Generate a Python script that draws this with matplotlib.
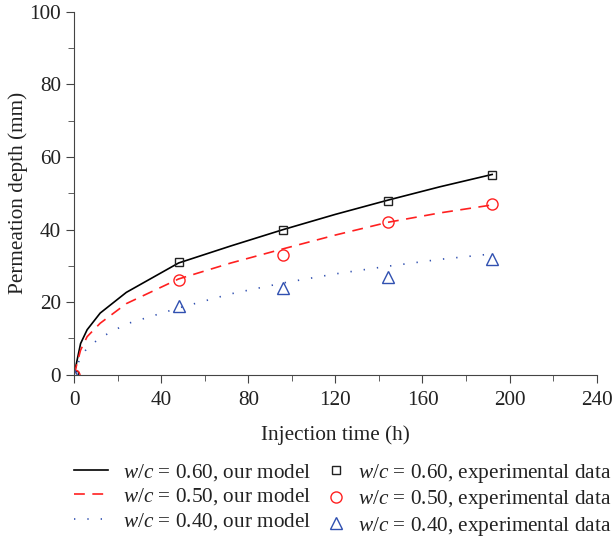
import matplotlib
matplotlib.use("Agg")
import matplotlib.pyplot as plt
from matplotlib.ticker import MultipleLocator

plt.rcParams['font.family'] = ['Liberation Serif', 'DejaVu Serif']
plt.rcParams['mathtext.fontset'] = 'custom'
plt.rcParams['mathtext.rm'] = 'Liberation Serif'
plt.rcParams['mathtext.it'] = 'Liberation Serif:italic'

# model curves
t_model = [0, 3, 6, 12, 24, 48, 72, 96, 120, 144, 168, 192]
model_060 = [0, 8.6, 12.4, 17.0, 22.7, 30.8, 35.5, 40.0, 44.2, 48.1, 51.8, 55.2]
model_050 = [0, 6.8, 10.5, 14.2, 19.6, 26.4, 30.8, 34.7, 38.5, 42.0, 44.6, 46.8]
model_040 = [0, 5.0, 7.3, 10.2, 14.0, 18.4, 22.3, 25.3, 27.8, 29.9, 31.8, 33.3]

# experimental data
t_exp = [0, 48, 96, 144, 192]
exp_060 = [0, 31, 40, 48, 55]
exp_050 = [0, 26, 33, 42, 47]
exp_040 = [0, 19, 24, 27, 32]

FS = 15.3
fig = plt.figure(figsize=(6.12, 5.4), dpi=100)
ax = fig.add_axes([0.121, 0.306, 0.854, 0.672])

l1, = ax.plot(t_model, model_060, '-', color='black', lw=1.2)
l2, = ax.plot(t_model, model_050, '--', color='#ff2020', lw=1.2, dashes=(6.5, 4.5))
l3, = ax.plot(t_model, model_040, ':', color='#3050b0', lw=1.2, dashes=(0.8, 7.2))
m1, = ax.plot(t_exp, exp_060, 's', mfc='none', mec='#222222', ms=6, mew=1.0, ls='none')
m2, = ax.plot(t_exp, exp_050, 'o', mfc='none', mec='#ff2020', ms=8, mew=1.0, ls='none')
m3, = ax.plot(t_exp, exp_040, '^', mfc='none', mec='#3050b0', ms=8, mew=1.0, ls='none')

ax.set_xlim(0, 240)
ax.set_ylim(0, 100)
ax.xaxis.set_major_locator(MultipleLocator(40))
ax.xaxis.set_minor_locator(MultipleLocator(20))
ax.yaxis.set_major_locator(MultipleLocator(20))
ax.yaxis.set_minor_locator(MultipleLocator(10))
ax.spines['top'].set_visible(False)
ax.spines['right'].set_visible(False)
for s in ['left', 'bottom']:
    ax.spines[s].set_color('#444444')
ax.tick_params(which='both', direction='out', colors='#444444', labelcolor='#222222', labelsize=FS)
ax.tick_params(which='major', length=6)
ax.tick_params(which='minor', length=4)
ax.tick_params(axis='x', pad=5.5)
ax.set_xlabel('Injection time (h)', fontsize=FS, color='#222222', labelpad=11)
ax.set_ylabel('Permeation depth (mm)', fontsize=FS, color='#222222', labelpad=1)

line_labels = [r'$w/c$ = 0.60, our model', r'$w/c$ = 0.50, our model', r'$w/c$ = 0.40, our model']
exp_labels = [r'$w/c$ = 0.60, experimental data', r'$w/c$ = 0.50, experimental data',
              r'$w/c$ = 0.40, experimental data']
leg1 = fig.legend([l1, l2, l3], line_labels, frameon=False, fontsize=FS,
                  loc='upper left', bbox_to_anchor=(0.121, 0.145), borderpad=0, borderaxespad=0,
                  handlelength=1.58, handletextpad=0.73, labelspacing=0.17, labelcolor='#222222')
leg2 = fig.legend([m1, m2, m3], exp_labels, frameon=False, fontsize=FS,
                  loc='upper left', bbox_to_anchor=(0.532, 0.145), borderpad=0, borderaxespad=0,
                  handlelength=1.0, handletextpad=0.54, labelspacing=0.17, labelcolor='#222222')

fig.savefig('out.png', dpi=100)
